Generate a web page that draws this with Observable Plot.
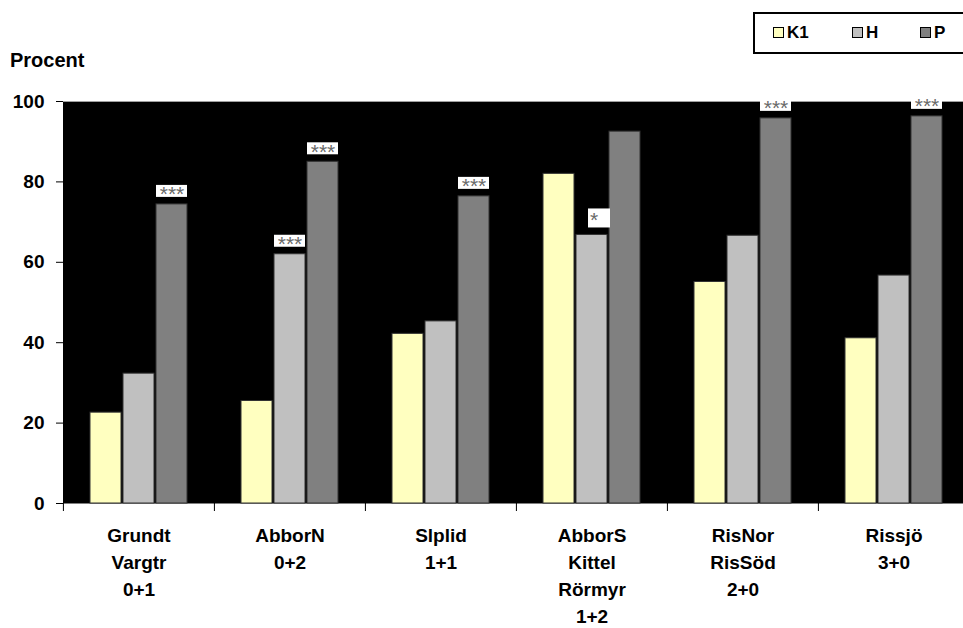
<!DOCTYPE html>
<html><head><meta charset="utf-8">
<script src="https://cdn.jsdelivr.net/npm/d3@7"></script>
<script src="https://cdn.jsdelivr.net/npm/@observablehq/plot@0.6"></script>
<style>
html,body{margin:0;padding:0;overflow:hidden;background:#fff;}
#wrap{position:relative;width:963px;height:628px;overflow:hidden;font-family:"Liberation Sans",Arial,sans-serif;font-weight:bold;color:#000;}
#wrap svg{position:absolute;left:0;top:0;overflow:hidden;}
.abs{position:absolute;white-space:nowrap;}
</style></head>
<body><div id="wrap"></div>
<script>
const sites = ["Grundt\nVargtr\n0+1", "AbborN\n0+2", "Slplid\n1+1", "AbborS\nKittel\nRörmyr\n1+2", "RisNor\nRisSöd\n2+0", "Rissjö\n3+0"];
const series = ["K1", "H", "P"];
const K1 = [22.6, 25.5, 42.2, 82.0, 55.1, 41.1];
const H  = [32.3, 62.0, 45.3, 66.8, 66.6, 56.7];
const P  = [74.4, 85.0, 76.4, 92.5, 95.8, 96.3];
const colors = ["#FFFFC0", "#C0C0C0", "#808080"];
const yTicks = [0, 20, 40, 60, 80, 100];
const yLabel = "Procent";
// significance markers
const starSite   = [0, 1, 1, 2, 4, 5];
const starSeries = ["P", "H", "P", "P", "P", "P"];
const starText   = ["***", "***", "***", "***", "***", "***"];
const oneStarSite = [3];
const oneStarSeries = ["H"];
const oneStarText = ["*"];

const valuesBy = {K1, H, P};
const rows = [];
sites.forEach((s, i) => series.forEach(k => rows.push({site: s, series: k, value: valuesBy[k][i]})));
const mk = (si, se, tx) => si.map((s, j) => ({site: sites[s], series: se[j], text: tx[j], value: valuesBy[se[j]][s]}));
const stars3 = mk(starSite, starSeries, starText);
const stars1 = mk(oneStarSite, oneStarSeries, oneStarText);

const font = "Liberation Sans, Arial, sans-serif";
const chart = Plot.plot({
  width: 963, height: 628,
  marginLeft: 62, marginRight: -6, marginTop: 101, marginBottom: 125,
  style: {fontFamily: font, fontWeight: "bold", background: "transparent", color: "black"},
  fx: {domain: sites, padding: 0, label: null, axis: null},
  x: {domain: series, paddingInner: 0.06, paddingOuter: 0.8, axis: null},
  y: {domain: [0, 100], label: null, axis: null},
  color: {domain: series, range: colors},
  marks: [
    Plot.frame({fill: "black", insetLeft: -0.5, insetRight: -0.5}),
    Plot.ruleY([100], {stroke: "#a0a0a0", strokeWidth: 1.2}),
    Plot.barY(rows, {fx: "site", x: "series", y: "value", fill: "series", stroke: "#333", strokeWidth: 1}),
    Plot.barY(stars3, {fx: "site", x: "series", y1: "value", y2: "value", insetTop: -19, insetBottom: 7, fill: "white"}),
    Plot.barY(stars1, {fx: "site", x: "series", y1: "value", y2: "value", insetTop: -26, insetBottom: 7, insetLeft: 12, insetRight: -3, fill: "white"}),
    Plot.text(stars3, {fx: "site", x: "series", y: "value", text: "text", lineAnchor: "bottom", dy: -3, fill: "#6a6a6a", fontSize: 21, fontWeight: "normal", fontFamily: font, style: "letter-spacing:2px"}),
    Plot.text(stars1, {fx: "site", x: "series", y: "value", text: "text", lineAnchor: "bottom", dy: -8, dx: 2, fill: "#6a6a6a", fontSize: 21, fontWeight: "normal", fontFamily: font}),
    Plot.axisY({ticks: yTicks, tickSize: 7, tickPadding: 12, fontSize: 19, label: null}),
    Plot.axisFx({anchor: "bottom", tickSize: 0, tickPadding: 19, fontSize: 19, lineHeight: 1.42, label: null}),
    Plot.axisFx({anchor: "bottom", text: null, tickSize: 8, dx: -75.58, label: null})
  ]
});
const wrap = document.getElementById("wrap");
wrap.appendChild(chart);

const lab = document.createElement("div");
lab.className = "abs";
lab.textContent = yLabel;
Object.assign(lab.style, {left: "10px", top: "50px", fontSize: "20px", lineHeight: "20px"});
wrap.appendChild(lab);

const box = document.createElement("div");
box.className = "abs";
Object.assign(box.style, {left: "753px", top: "12px", width: "240px", height: "42px", boxSizing: "border-box", border: "2px solid black", background: "white"});
wrap.appendChild(box);
const swX = [773, 852, 920];
series.forEach((k, i) => {
  const sw = document.createElement("div");
  sw.className = "abs";
  Object.assign(sw.style, {left: swX[i] + "px", top: "27px", width: "11px", height: "11px", boxSizing: "border-box", border: "1.5px solid black", background: colors[i]});
  wrap.appendChild(sw);
  const t = document.createElement("div");
  t.className = "abs";
  t.textContent = k;
  Object.assign(t.style, {left: (swX[i] + 14) + "px", top: "24px", fontSize: "17px", lineHeight: "17px"});
  wrap.appendChild(t);
});
</script>
</body></html>
